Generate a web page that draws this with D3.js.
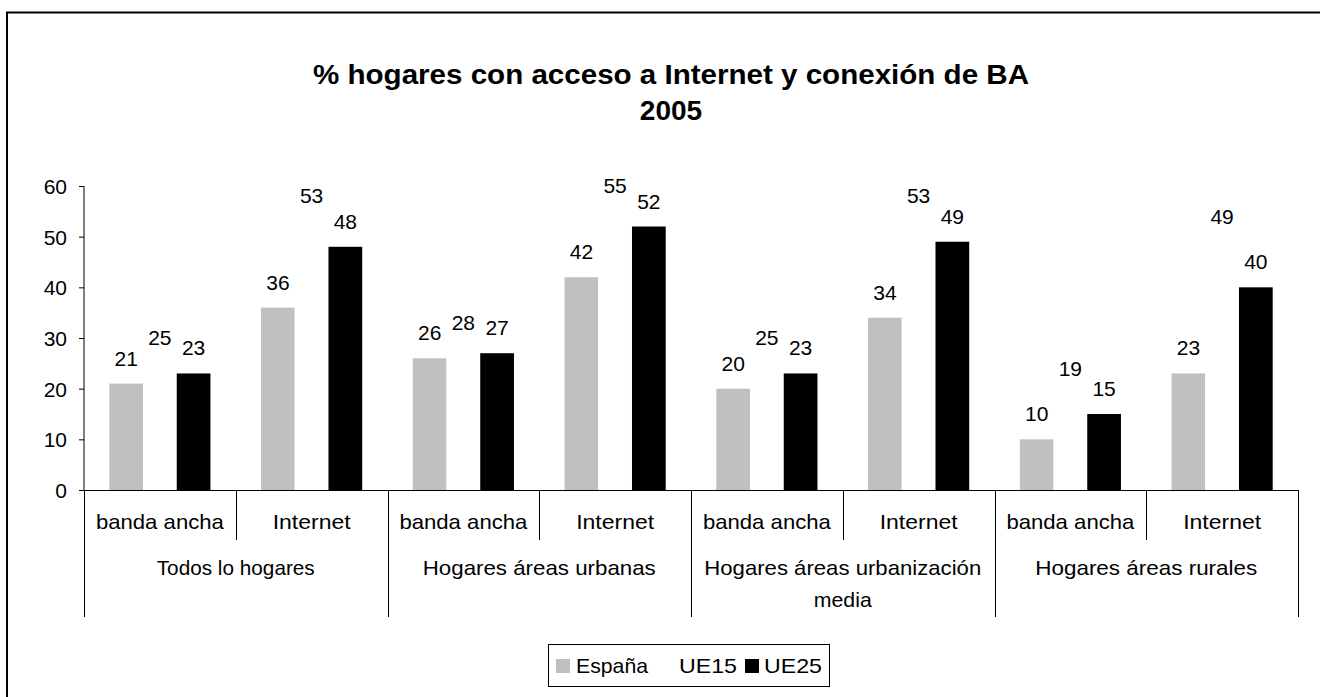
<!DOCTYPE html>
<html>
<head>
<meta charset="utf-8">
<script src="https://cdn.jsdelivr.net/npm/d3@7"></script>
<style>
  html, body { margin: 0; padding: 0; background: #fff; }
  svg { display: block; font-family: "Liberation Sans", Arial, sans-serif; }
</style>
</head>
<body>
<div id="chart"></div>
<script>
/* ---------- data ---------- */
const groups = ['Todos lo hogares', 'Hogares áreas urbanas', 'Hogares áreas urbanización media', 'Hogares áreas rurales'];
const subcats = ['banda ancha', 'Internet'];
const seriesNames = ['España', 'UE15', 'UE25'];
const espana = [21, 36, 26, 42, 20, 34, 10, 23];
const ue15   = [25, 53, 28, 55, 25, 53, 19, 49];
const ue25   = [23, 48, 27, 52, 23, 49, 15, 40];
const yTicks = [0, 10, 20, 30, 40, 50, 60];
const titleLines = ['% hogares con acceso a Internet y conexión de BA', '2005'];

/* ---------- layout ---------- */
const W = 1320, H = 697;
const colors = { 'España': '#c0c0c0', 'UE15': '#ffffff', 'UE25': '#000000' };
const FONT = 21;

const svg = d3.select('#chart').append('svg')
  .attr('width', W).attr('height', H)
  .attr('viewBox', `0 0 ${W} ${H}`);

// outer frame (runs off the right and bottom edges like the source)
svg.append('rect')
  .attr('x', 7).attr('y', 12.5)
  .attr('width', W + 20).attr('height', H + 20)
  .attr('fill', '#fff').attr('stroke', '#000').attr('stroke-width', 2);

// title
const titleSizes = [{ y: 84, len: 716 }, { y: 120, len: null }];
titleLines.forEach((t, i) => {
  const el = svg.append('text')
    .attr('x', 671).attr('y', titleSizes[i].y)
    .attr('text-anchor', 'middle')
    .attr('font-size', 28).attr('font-weight', 'bold')
    .text(t);
  if (titleSizes[i].len) el.attr('textLength', titleSizes[i].len).attr('lengthAdjust', 'spacingAndGlyphs');
});

/* ---------- scales ---------- */
const cells = [];
groups.forEach((g, gi) => subcats.forEach((s, si) => cells.push({ key: gi + '|' + si, group: g, sub: s, i: gi * 2 + si })));

const x0 = d3.scaleBand().domain(cells.map(d => d.key)).range([84, 1298]).padding(0);
const x1 = d3.scaleBand().domain(seriesNames).range([0, x0.bandwidth()]).paddingInner(0).paddingOuter(0.75);
const y = d3.scaleLinear().domain([0, 60]).range([490, 186]);

/* ---------- y axis ---------- */
const yAxis = svg.append('g')
  .attr('transform', 'translate(84,0)')
  .call(d3.axisLeft(y).tickValues(yTicks).tickSize(5).tickPadding(12).tickFormat(d3.format('d')));
yAxis.select('.domain').attr('stroke', '#000').attr('d', `M0,${y(0)}V${y(60)}`);
yAxis.selectAll('.tick line').attr('stroke', '#000');
yAxis.selectAll('.tick text')
  .attr('font-size', FONT).attr('font-family', '"Liberation Sans", Arial, sans-serif')
  .attr('fill', '#000').attr('dy', '0.36em');

/* ---------- bars ---------- */
const seriesVals = { 'España': espana, 'UE15': ue15, 'UE25': ue25 };
const barData = [];
cells.forEach(c => seriesNames.forEach(s => barData.push({ cell: c, s, v: seriesVals[s][c.i] })));

const barG = svg.append('g');
barG.selectAll('rect').data(barData).join('rect')
  .attr('x', d => x0(d.cell.key) + x1(d.s))
  .attr('y', d => y(d.v))
  .attr('width', x1.bandwidth())
  .attr('height', d => y(0) - y(d.v))
  .attr('fill', d => colors[d.s]);

barG.selectAll('text').data(barData).join('text')
  .attr('x', d => x0(d.cell.key) + x1(d.s) + x1.bandwidth() / 2)
  .attr('y', d => y(d.v) - 18)
  .attr('text-anchor', 'middle')
  .attr('font-size', FONT)
  .attr('fill', '#000')
  .text(d => d.v);

/* ---------- x axis (two-level categories) ---------- */
const xAx = svg.append('g');
xAx.append('line')
  .attr('x1', x0.range()[0]).attr('x2', x0.range()[1])
  .attr('y1', y(0) + 0.5).attr('y2', y(0) + 0.5)
  .attr('stroke', '#000');

// separators: between subcategories short, between groups long
const bounds = d3.range(cells.length + 1);
xAx.selectAll('line.sep').data(bounds).join('line')
  .attr('class', 'sep')
  .attr('x1', i => Math.round(x0.range()[0] + i * x0.step()) + 0.5)
  .attr('x2', i => Math.round(x0.range()[0] + i * x0.step()) + 0.5)
  .attr('y1', y(0))
  .attr('y2', i => (i % 2 === 0 ? 617 : 540))
  .attr('stroke', '#000');

const subWidths = { 'banda ancha': 128, 'Internet': 78 };
xAx.selectAll('text.sub').data(cells).join('text')
  .attr('class', 'sub')
  .attr('x', d => x0(d.key) + x0.bandwidth() / 2)
  .attr('y', 529)
  .attr('text-anchor', 'middle')
  .attr('font-size', FONT)
  .attr('textLength', d => subWidths[d.sub])
  .attr('lengthAdjust', 'spacingAndGlyphs')
  .text(d => d.sub);

const groupLines = [
  [{ t: 'Todos lo hogares', w: 158 }],
  [{ t: 'Hogares áreas urbanas', w: 233 }],
  [{ t: 'Hogares áreas urbanización', w: 277 }, { t: 'media', w: 58 }],
  [{ t: 'Hogares áreas rurales', w: 222 }]
];
groups.forEach((g, gi) => {
  const cx = x0(gi + '|0') + x0.step();
  groupLines[gi].forEach((ln, li) => {
    xAx.append('text')
      .attr('x', cx).attr('y', 575 + li * 32)
      .attr('text-anchor', 'middle')
      .attr('font-size', FONT)
      .attr('textLength', ln.w).attr('lengthAdjust', 'spacingAndGlyphs')
      .text(ln.t);
  });
});

/* ---------- legend ---------- */
const leg = svg.append('g');
leg.append('rect')
  .attr('x', 548.5).attr('y', 644.5).attr('width', 281).attr('height', 42)
  .attr('fill', '#fff').attr('stroke', '#000');
const legItems = [
  { s: 'España', sx: 556, tx: 576, w: 72 },
  { s: 'UE15', sx: 660, tx: 679, w: 58 },
  { s: 'UE25', sx: 745, tx: 764, w: 58 }
];
legItems.forEach(it => {
  leg.append('rect')
    .attr('x', it.sx).attr('y', 659).attr('width', 14).attr('height', 14)
    .attr('fill', colors[it.s]);
  leg.append('text')
    .attr('x', it.tx).attr('y', 673)
    .attr('font-size', FONT)
    .attr('textLength', it.w).attr('lengthAdjust', 'spacingAndGlyphs')
    .text(it.s);
});
</script>
</body>
</html>
